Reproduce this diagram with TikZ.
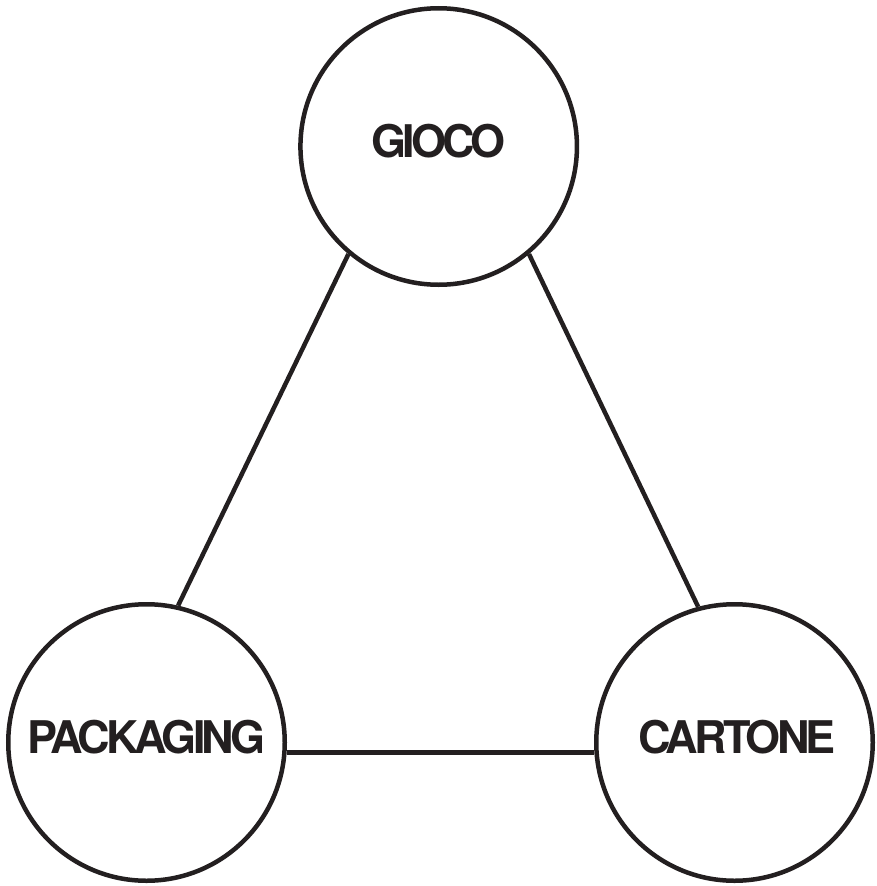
\documentclass[tikz,border=0pt]{standalone}
\usepackage{fontspec}
\setmainfont{TeX Gyre Heros}
\definecolor{ink}{HTML}{231F20}
\tikzset{
  bubble/.style={circle, draw=ink, line width=4.5pt, fill=white, minimum size=276.5pt,
    inner sep=0pt, text=ink, text height=32pt, text depth=10pt,
    font=\fontsize{45}{50}\selectfont\bfseries\addfontfeatures{LetterSpace=-8.5}},
  link/.style={draw=ink, line width=4.5pt}
}
\begin{document}
\begin{tikzpicture}[x=1pt, y=-1pt]
\useasboundingbox (0,0) rectangle (877,886);
\node[bubble] (gioco) at (438.7,146.5) {GIOCO};
\node[bubble] (packaging) at (146.5,742.5) {PACKAGING};
\node[bubble] (cartone) at (734.5,742.5) {\hspace*{5pt}CARTONE};
\draw[link] (gioco.230.1) -- (packaging.77.7);
\draw[link] (gioco.310.6) -- (cartone.105.3);
\draw[link] (packaging.-4.3) -- (cartone.184.3);
\end{tikzpicture}
\end{document}
